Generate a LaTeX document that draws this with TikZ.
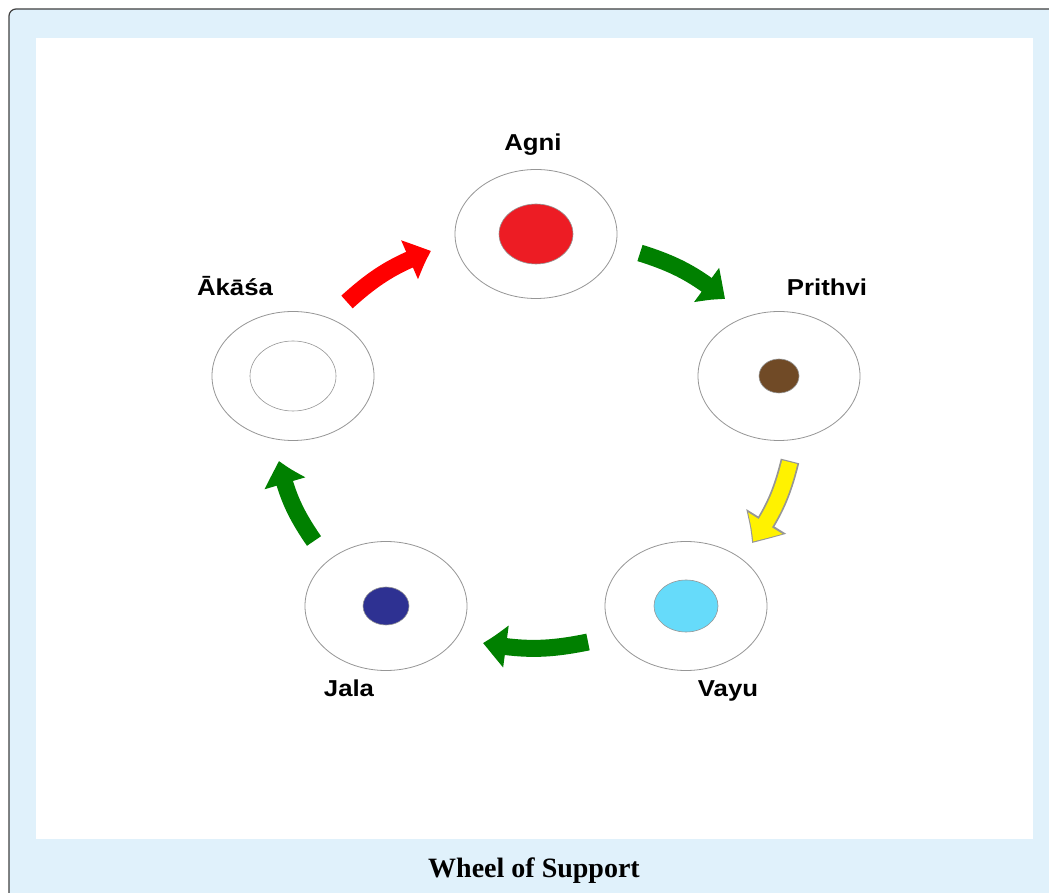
\documentclass[tikz,border=0pt]{standalone}
\usepackage{fontspec}
\setmainfont{Liberation Sans}
\newfontfamily\titlefont{Liberation Serif}
\usetikzlibrary{arrows.meta,shapes.geometric,bending}
\definecolor{framebg}{RGB}{224,241,251}
\definecolor{agnired}{RGB}{237,28,36}
\definecolor{earthbrown}{RGB}{112,74,38}
\definecolor{airblue}{RGB}{102,219,250}
\definecolor{waterblue}{RGB}{46,49,146}
\definecolor{flowgreen}{RGB}{0,128,0}
\definecolor{ringgray}{RGB}{150,150,150}
\begin{document}
\begin{tikzpicture}[x=1pt,y=1pt,
  ring/.style={ellipse, draw=ringgray, line width=0.8pt, minimum width=162pt, minimum height=129pt, inner sep=0pt},
  dot/.style={ellipse, draw=ringgray, line width=0.6pt, inner sep=0pt},
  lbl/.style={font=\fontsize{23}{26}\selectfont\bfseries, anchor=base, xscale=1.12},
  flow/.style={line width=17pt, -{Triangle[width=40pt,length=24pt,bend]}, bend left=11}]
\useasboundingbox (0,0) rectangle (1049,892);
\draw[rounded corners=7pt, fill=framebg, draw=black!75, line width=1.2pt] (9,883) rectangle (1075,-20);
\fill[white] (36,53) rectangle (1033,854);

% rings
\node[ring] (agni) at (536,658) {};
\node[dot, fill=agnired, minimum width=74pt, minimum height=60pt] (agnidot) at (agni) {};
\node[ring] (prithvi) at (779,516) {};
\node[dot, fill=earthbrown, minimum width=40pt, minimum height=34pt] (prithvidot) at (prithvi) {};
\node[ring] (vayu) at (686,286) {};
\node[dot, fill=airblue, minimum width=64pt, minimum height=52pt] (vayudot) at (vayu) {};
\node[ring] (jala) at (386,286) {};
\node[dot, fill=waterblue, minimum width=46pt, minimum height=38pt] (jaladot) at (jala) {};
\node[ring] (akasa) at (293,516) {};
\node[dot, fill=white, minimum width=86pt, minimum height=70pt] (akasadot) at (akasa) {};

% labels
\node[lbl] (lagni) at (533,741) {Agni};
\node[lbl] (lprithvi) at (827,596) {Prithvi};
\node[lbl] (lvayu) at (728,196) {Vayu};
\node[lbl] (ljala) at (349,196) {Jala};
\node[lbl] (lakasa) at (235,596) {Ākāśa};

% arrows
\coordinate (r1) at (347,590); \coordinate (r2) at (431,641);
\coordinate (g1) at (640,639); \coordinate (g2) at (725,593);
\coordinate (y1) at (790,431); \coordinate (y2) at (752,349);
\coordinate (b1) at (588,250); \coordinate (b2) at (483,249);
\coordinate (l1) at (314,351); \coordinate (l2) at (279,431);
\draw[flow, red] (r1) to (r2);
\draw[flow, flowgreen] (g1) to (g2);
\draw[flow, ringgray, line width=19pt, -{Triangle[width=44pt,length=27pt,bend]}] (y1) to (y2);
\draw[flow, yellow, line width=15.5pt, -{Triangle[width=38pt,length=23pt,bend]}, shorten >=1.8pt, shorten <=1.2pt] (y1) to (y2);
\draw[flow, flowgreen] (b1) to (b2);
\draw[flow, flowgreen] (l1) to (l2);

% title
\node[font=\titlefont\fontsize{28}{32}\selectfont\bfseries, anchor=base] (title) at (534,15) {Wheel of Support};
\end{tikzpicture}
\end{document}
